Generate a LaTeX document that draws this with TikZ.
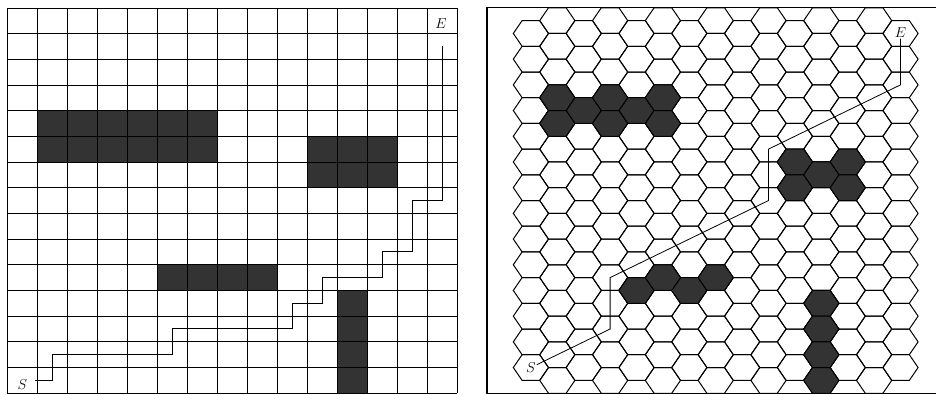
\documentclass[tikz,border=0pt]{standalone}
\definecolor{blockfill}{HTML}{333333}
\tikzset{
  gridline/.style={line width=0.95pt, draw=black},
  blockcell/.style={fill=blockfill},
  hexcell/.style={line width=1pt, draw=black, line join=miter},
  hexblock/.style={hexcell, fill=blockfill},
  route/.style={line width=0.8pt, draw=black},
  lbl/.style={inner sep=1pt, font=\fontsize{15}{17}\selectfont},
  hexframe/.style={line width=1.3pt, draw=black},
  hexpic/.pic={\path[pic actions] (-17.6,0) -- (-8.8,-12.85) -- (8.8,-12.85) -- (17.6,0) -- (8.8,12.85) -- (-8.8,12.85) -- cycle;}
}
\begin{document}
\begin{tikzpicture}[x=1pt,y=-1pt]
\useasboundingbox (0,0) rectangle (936,394);
% ---------- square grid ----------
\fill[blockcell] (37,110.67) rectangle (217,162);
\fill[blockcell] (307,136.33) rectangle (397,187.67);
\fill[blockcell] (157,264.67) rectangle (277,290.33);
\fill[blockcell] (337,290.33) rectangle (367,393);
\foreach \i in {0,...,15}{\draw[gridline] ({7+30*\i},8) -- ({7+30*\i},393);}
\foreach \j in {0,...,15}{\draw[gridline] (7,{8+25.6667*\j}) -- (457,{8+25.6667*\j});}
\node[lbl] (sqS) at (22.5,385) {$S$};
\node[lbl] (sqE) at (441,24) {$E$};
\coordinate (sqstart) at (35,380.2);
\coordinate (q1) at (52,380.2);
\coordinate (q2) at (52,354.5);
\coordinate (q3) at (172,354.5);
\coordinate (q4) at (172,328.8);
\coordinate (q5) at (292,328.8);
\coordinate (q6) at (292,303.2);
\coordinate (q7) at (322,303.2);
\coordinate (q8) at (322,277.5);
\coordinate (q9) at (382,277.5);
\coordinate (q10) at (382,251.8);
\coordinate (q11) at (412,251.8);
\coordinate (q12) at (412,200.5);
\coordinate (q13) at (442,200.5);
\coordinate (sqend) at (442,46);
\draw[route] (sqstart) -- (q1) -- (q2) -- (q3) -- (q4) -- (q5) -- (q6) -- (q7) -- (q8) -- (q9) -- (q10) -- (q11) -- (q12) -- (q13) -- (sqend);
% ---------- hex grid ----------
\foreach \c in {0,2,...,14}{\foreach \k in {0,...,13}{\pic[hexcell] at ({530.9+26.4*\c},{33.45+25.7*\k}) {hexpic};}}
\foreach \c in {1,3,...,13}{\foreach \k in {0,...,14}{\pic[hexcell] at ({530.9+26.4*\c},{20.6+25.7*\k}) {hexpic};}}
\foreach \c/\k in {2/3,4/3,10/5,10/6,12/5,12/6,4/10,6/10}{\pic[hexblock] at ({530.9+26.4*\c},{33.45+25.7*\k}) {hexpic};}
\foreach \c/\k in {1/3,1/4,3/3,3/4,5/3,5/4,11/6,5/10,7/10,11/11,11/12,11/13,11/14}{\pic[hexblock] at ({530.9+26.4*\c},{20.6+25.7*\k}) {hexpic};}
\draw[hexframe] (936,7.7) -- (487,7.7) -- (487,393.3) -- (936,393.3);
\node[lbl] (hS) at (530.9,367.55) {$S$};
\node[lbl] (hE) at (900.5,32.5) {$E$};
\coordinate (h1) at (900.5,84.85);
\coordinate (h2) at (768.5,149.1);
\coordinate (h3) at (768.5,200.5);
\coordinate (h4) at (610.1,277.6);
\coordinate (h5) at (610.1,329);
\draw[route] (hE) -- (h1) -- (h2) -- (h3) -- (h4) -- (h5) -- (hS);
\end{tikzpicture}
\end{document}
